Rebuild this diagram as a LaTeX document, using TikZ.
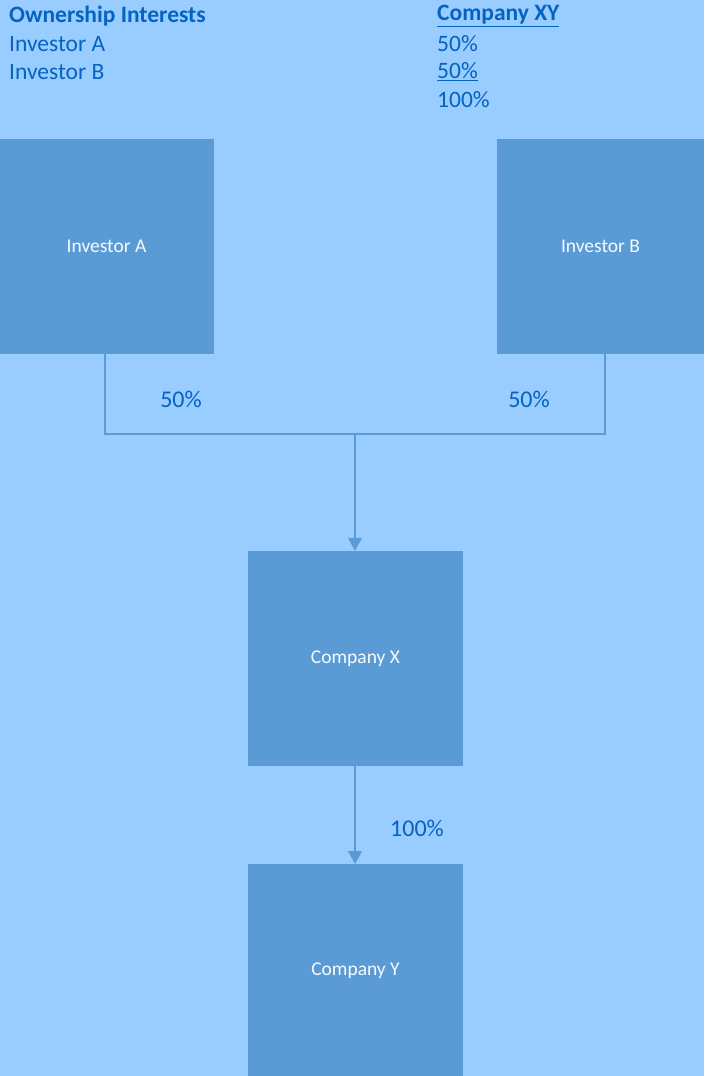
\documentclass[tikz,border=0pt]{standalone}
\usepackage{fontspec}
\setmainfont{Carlito}
\usetikzlibrary{arrows.meta}
\definecolor{bg}{HTML}{99CCFF}
\definecolor{boxc}{HTML}{5B9BD5}
\definecolor{txt}{HTML}{0563C1}
\tikzset{
  entity/.style={fill=boxc, draw=none, minimum width=215pt, minimum height=215pt, inner sep=0pt, text=white!95!boxc, font=\fontsize{19.5}{22}\selectfont},
  link/.style={draw=boxc, line width=1.5pt},
  arr/.style={link, -{Triangle[length=13pt,width=14pt]}},
  pct/.style={text=txt, font=\fontsize{24}{26}\selectfont, inner sep=0pt},
  hdr/.style={text=txt, font=\fontsize{23.5}{26}\selectfont, anchor=west, inner sep=0pt}
}
\begin{document}
\begin{tikzpicture}[x=1pt,y=-1pt]
\fill[bg] (0,0) rectangle (704,1076);
\useasboundingbox (0,0) rectangle (704,1076);
% header table
\node[hdr, font=\fontsize{23.5}{26}\selectfont\bfseries] (h1) at (9,16) {Ownership Interests};
\node[hdr] (h2) at (9,44) {Investor A};
\node[hdr] (h3) at (9,72) {Investor B};
\node[hdr, font=\fontsize{23.5}{26}\selectfont\bfseries] (c1) at (437,16) {\underline{Company XY}};
\node[hdr] (c2) at (437,44) {50\%};
\node[hdr] (c3) at (437,72) {\underline{50\%}};
\node[hdr] (c4) at (437,100) {100\%};
% boxes
\node[entity] (ia) at (106.5,246.5) {Investor A};
\node[entity, minimum width=207pt] (ib) at (600.5,246.5) {Investor B};
\node[entity] (cx) at (355.5,658.5) {Company X};
\path[fill=boxc] (248,864) rectangle (463,1076);
\node[text=white!95!boxc, font=\fontsize{19.5}{22}\selectfont] (cy) at (355.5,971) {Company Y};
\coordinate (cytop) at (355,864);
% connectors
\coordinate (ja) at (105,434);
\coordinate (jb) at (605,434);
\coordinate (jm) at (355,434);
\draw[link] (ia.south -| ja) -- (ja) -- (jb) -- (ib.south -| jb);
\draw[arr] (jm) -- (cx.north -| jm);
\draw[arr] (cx.south -| jm) -- (cytop);
% labels
\node[pct] (pa) at (181,399) {50\%};
\node[pct] (pb) at (529,399) {50\%};
\node[pct] (px) at (417,828) {100\%};
\end{tikzpicture}
\end{document}
